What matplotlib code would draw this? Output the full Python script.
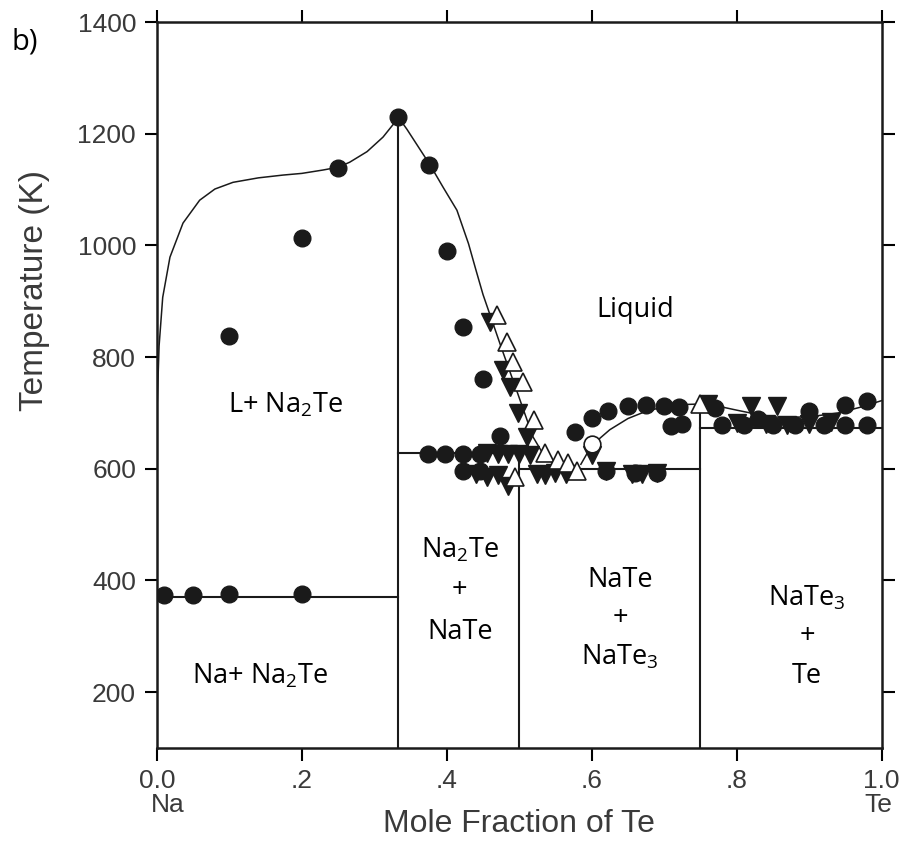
import matplotlib
matplotlib.use('Agg')
import matplotlib.pyplot as plt

plt.rcParams['font.family'] = ['Liberation Sans', 'DejaVu Sans']
plt.rcParams['mathtext.fontset'] = 'custom'
plt.rcParams['mathtext.rm'] = 'Open Sans'
plt.rcParams['mathtext.it'] = 'Open Sans'

# Data
# liquidus, Na-rich side
liq_left_x = [0.0, 0.003, 0.008, 0.018, 0.036, 0.059, 0.08, 0.105, 0.14, 0.174, 0.2, 0.229, 0.25, 0.266, 0.29, 0.312, 0.333]
liq_left_T = [700, 820, 907, 979, 1040, 1081, 1101, 1113, 1121, 1126, 1129, 1135, 1140, 1149, 1168, 1194, 1228]
# liquidus, Na2Te -> eutectic
liq_mid_x = [0.333, 0.345, 0.36, 0.377, 0.395, 0.414, 0.43, 0.44, 0.45, 0.475, 0.497, 0.519, 0.535, 0.55, 0.565]
liq_mid_T = [1230, 1208, 1178, 1144, 1104, 1063, 1003, 957, 912, 818, 738, 657, 622, 607, 600]
# liquidus, NaTe3 region
liq_right_x = [0.585, 0.60, 0.625, 0.65, 0.675, 0.70, 0.725, 0.75, 0.775, 0.80, 0.83, 0.86, 0.90, 0.94, 0.97, 1.0]
liq_right_T = [608, 642, 670, 690, 703, 711, 715, 716, 712, 705, 697, 692, 693, 700, 710, 722]

# invariant lines (x start, x end, T)
hline_x0 = [0.0, 0.333, 0.5, 0.75]
hline_x1 = [0.333, 0.5, 0.75, 1.0]
hline_T = [370, 628, 600, 673]
# compound lines (x, T top)
vline_x = [0.333, 0.5, 0.75]
vline_T = [1230, 628, 716]

circ_x = [0.01, 0.05, 0.10, 0.20,
          0.10, 0.20, 0.25, 0.333, 0.375, 0.40, 0.422, 0.45, 0.474,
          0.374, 0.397, 0.422, 0.446, 0.422, 0.446,
          0.577, 0.60, 0.622, 0.65, 0.675, 0.70, 0.72, 0.71, 0.725,
          0.62, 0.66, 0.69,
          0.77, 0.83, 0.90, 0.95, 0.98,
          0.78, 0.81, 0.85, 0.88, 0.92, 0.95, 0.98]
circ_T = [374, 374, 376, 376,
          837, 1013, 1138, 1230, 1144, 990, 854, 761, 659,
          626, 626, 626, 626, 596, 596,
          666, 691, 703, 713, 714, 713, 711, 677, 680,
          596, 593, 593,
          708, 690, 703, 715, 722,
          678, 678, 678, 678, 678, 678, 678]

tri_x = [0.459, 0.477, 0.487, 0.498, 0.510,
         0.455, 0.47, 0.485, 0.50, 0.515,
         0.44, 0.455, 0.47, 0.485, 0.525, 0.535, 0.55, 0.565,
         0.60, 0.62, 0.655, 0.67, 0.69,
         0.76, 0.80, 0.84, 0.87, 0.90, 0.93, 0.82, 0.855]
tri_T = [863, 777, 746, 700, 657,
         628, 626, 626, 626, 624,
         590, 585, 588, 570, 590, 588, 592, 590,
         625, 596, 590, 590, 592,
         716, 682, 680, 678, 680, 683, 712, 712]

otri_x = [0.469, 0.483, 0.491, 0.505, 0.521, 0.535, 0.553, 0.567, 0.579, 0.494, 0.749]
otri_T = [875, 827, 791, 755, 687, 628, 615, 610, 596, 585, 716]

ocirc_x = [0.60]
ocirc_T = [644]

fig = plt.figure(figsize=(9.07, 8.49), dpi=100)
ax = fig.add_axes([0.173, 0.119, 0.799, 0.855])

ink = '#1a1a1a'
ax.plot(liq_left_x, liq_left_T, color=ink, lw=1.1)
ax.plot(liq_mid_x, liq_mid_T, color=ink, lw=1.1)
ax.plot(liq_right_x, liq_right_T, color=ink, lw=1.1)
for x0, x1, t in zip(hline_x0, hline_x1, hline_T):
    ax.plot([x0, x1], [t, t], color=ink, lw=1.5)
for x, t in zip(vline_x, vline_T):
    ax.plot([x, x], [100, t], color=ink, lw=1.5)

ax.plot(circ_x, circ_T, 'o', color=ink, ms=12, ls='none')
ax.plot(tri_x, tri_T, 'v', color=ink, ms=13, ls='none')
ax.plot(otri_x, otri_T, '^', mfc='white', mec=ink, mew=1.2, ms=13, ls='none')
ax.plot(ocirc_x, ocirc_T, 'o', mfc='white', mec=ink, mew=1.2, ms=12, ls='none')

# region labels
lab = dict(family='Open Sans', fontsize=19.5, ha='center', va='center', color='black')
ax.text(0.66, 884, 'Liquid', **lab)
ax.text(0.177, 714, 'L+ Na$_2$Te', **lab)
ax.text(0.142, 229, 'Na+ Na$_2$Te', **lab)
ax.text(0.418, 454, 'Na$_2$Te', **lab)
ax.text(0.418, 383, '+', **lab)
ax.text(0.418, 307, 'NaTe', **lab)
ax.text(0.639, 400, 'NaTe', **lab)
ax.text(0.639, 333, '+', **lab)
ax.text(0.639, 263, 'NaTe$_3$', **lab)
ax.text(0.897, 368, 'NaTe$_3$', **lab)
ax.text(0.897, 300, '+', **lab)
ax.text(0.897, 229, 'Te', **lab)

ax.set_xlim(0, 1)
ax.set_ylim(100, 1400)
ax.set_xticks([0, 0.2, 0.4, 0.6, 0.8, 1.0])
ax.set_xticklabels(['0.0', '.2', '.4', '.6', '.8', '1.0'])
ax.set_yticks([200, 400, 600, 800, 1000, 1200, 1400])
ax.tick_params(direction='out', length=9, width=1.5, labelsize=19,
               labelcolor='#3a3a3a', top=True, right=True, pad=6)
for s in ax.spines.values():
    s.set_linewidth(1.8)
    s.set_color(ink)

ax.set_xlabel('Mole Fraction of Te', fontsize=23, color='#3a3a3a', labelpad=12)
ax.set_ylabel('Temperature (K)', fontsize=24, color='#3a3a3a')
ax.yaxis.set_label_coords(-0.148, 0.63)

fig.text(168 / 907, 1 - 805 / 849, 'Na', fontsize=19, color='#3a3a3a', ha='center', va='center')
fig.text(878 / 907, 1 - 805 / 849, 'Te', fontsize=19, color='#3a3a3a', ha='center', va='center')
fig.text(12 / 907, 1 - 42 / 849, 'b)', family='Open Sans', fontsize=21, color='black', ha='left', va='center')

fig.savefig('out.png', dpi=100)
